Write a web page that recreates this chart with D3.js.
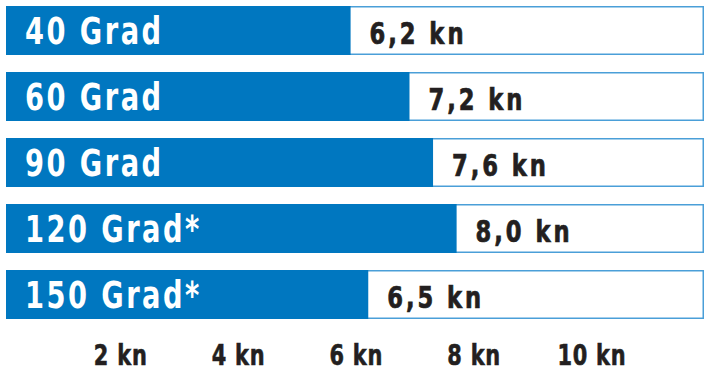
<!DOCTYPE html>
<html>
<head>
<meta charset="utf-8">
<script src="https://cdn.jsdelivr.net/npm/d3@7"></script>
<style>
  html, body { margin: 0; padding: 0; background: #ffffff; }
  svg { display: block; }
</style>
</head>
<body>
<script>
const categories = ["40 Grad", "60 Grad", "90 Grad", "120 Grad*", "150 Grad*"];
const speeds = [6.2, 7.2, 7.6, 8.0, 6.5];
const valueLabels = ["6,2 kn", "7,2 kn", "7,6 kn", "8,0 kn", "6,5 kn"];
const tickValues = [2, 4, 6, 8, 10];
const tickLabels = ["2 kn", "4 kn", "6 kn", "8 kn", "10 kn"];
const axisMax = 12.2;

const W = 712, H = 383;
const blue = "#0077c0", border = "#4a9fd8", ink = "#231f20";
const condensed = "'DejaVu Sans Condensed', 'Liberation Sans Narrow', sans-serif";

const svg = d3.select("body").append("svg").attr("width", W).attr("height", H);

const x = d3.scaleLinear().domain([0, axisMax]).range([-14.6, 704]);
const y = d3.scaleBand().domain(categories).range([6, 319]).paddingInner(17 / 66).paddingOuter(0);
const left = 6;

const g = svg.selectAll("g.bar").data(categories).enter().append("g").attr("class", "bar");

// outline (full-width white box)
g.append("rect")
  .attr("x", left + 0.75)
  .attr("y", d => y(d) + 0.75)
  .attr("width", x(axisMax) - left - 1.5)
  .attr("height", y.bandwidth() - 1.5)
  .attr("fill", "#fff")
  .attr("stroke", border)
  .attr("stroke-width", 1.5);

// blue value bar
g.append("rect")
  .attr("x", left)
  .attr("y", d => y(d))
  .attr("width", (d, i) => x(speeds[i]) - left)
  .attr("height", y.bandwidth())
  .attr("fill", blue);

// category labels
g.append("text")
  .attr("transform", d => `translate(25,${y(d) + y.bandwidth() / 2 + 13.5}) scale(0.82,1)`)
  .attr("fill", "#fff")
  .attr("font-family", condensed)
  .attr("font-weight", "bold")
  .attr("font-size", 37)
  .attr("letter-spacing", 3)
  .text(d => d);

// value labels
g.append("text")
  .attr("transform", (d, i) => `translate(${x(speeds[i]) + 19},${y(d) + y.bandwidth() / 2 + 13.5}) scale(0.84,1)`)
  .attr("fill", ink)
  .attr("stroke", ink)
  .attr("stroke-width", 0.7)
  .attr("font-family", condensed)
  .attr("font-weight", "bold")
  .attr("font-size", 30)
  .attr("letter-spacing", 3.5)
  .text((d, i) => valueLabels[i]);

// axis labels
const axis = d3.axisBottom(x).tickValues(tickValues).tickFormat((d, i) => tickLabels[i]).tickSize(0).tickPadding(0);
const ax = svg.append("g").attr("transform", "translate(17,0)").call(axis);
ax.select(".domain").remove();
ax.selectAll("text")
  .attr("y", 365)
  .attr("dy", null)
  .attr("transform", "scale(0.8,1)")
  .attr("fill", ink)
  .attr("stroke", ink)
  .attr("stroke-width", 0.6)
  .attr("font-family", condensed)
  .attr("font-weight", "bold")
  .attr("font-size", 29)
  .attr("letter-spacing", 1);
</script>
</body>
</html>
